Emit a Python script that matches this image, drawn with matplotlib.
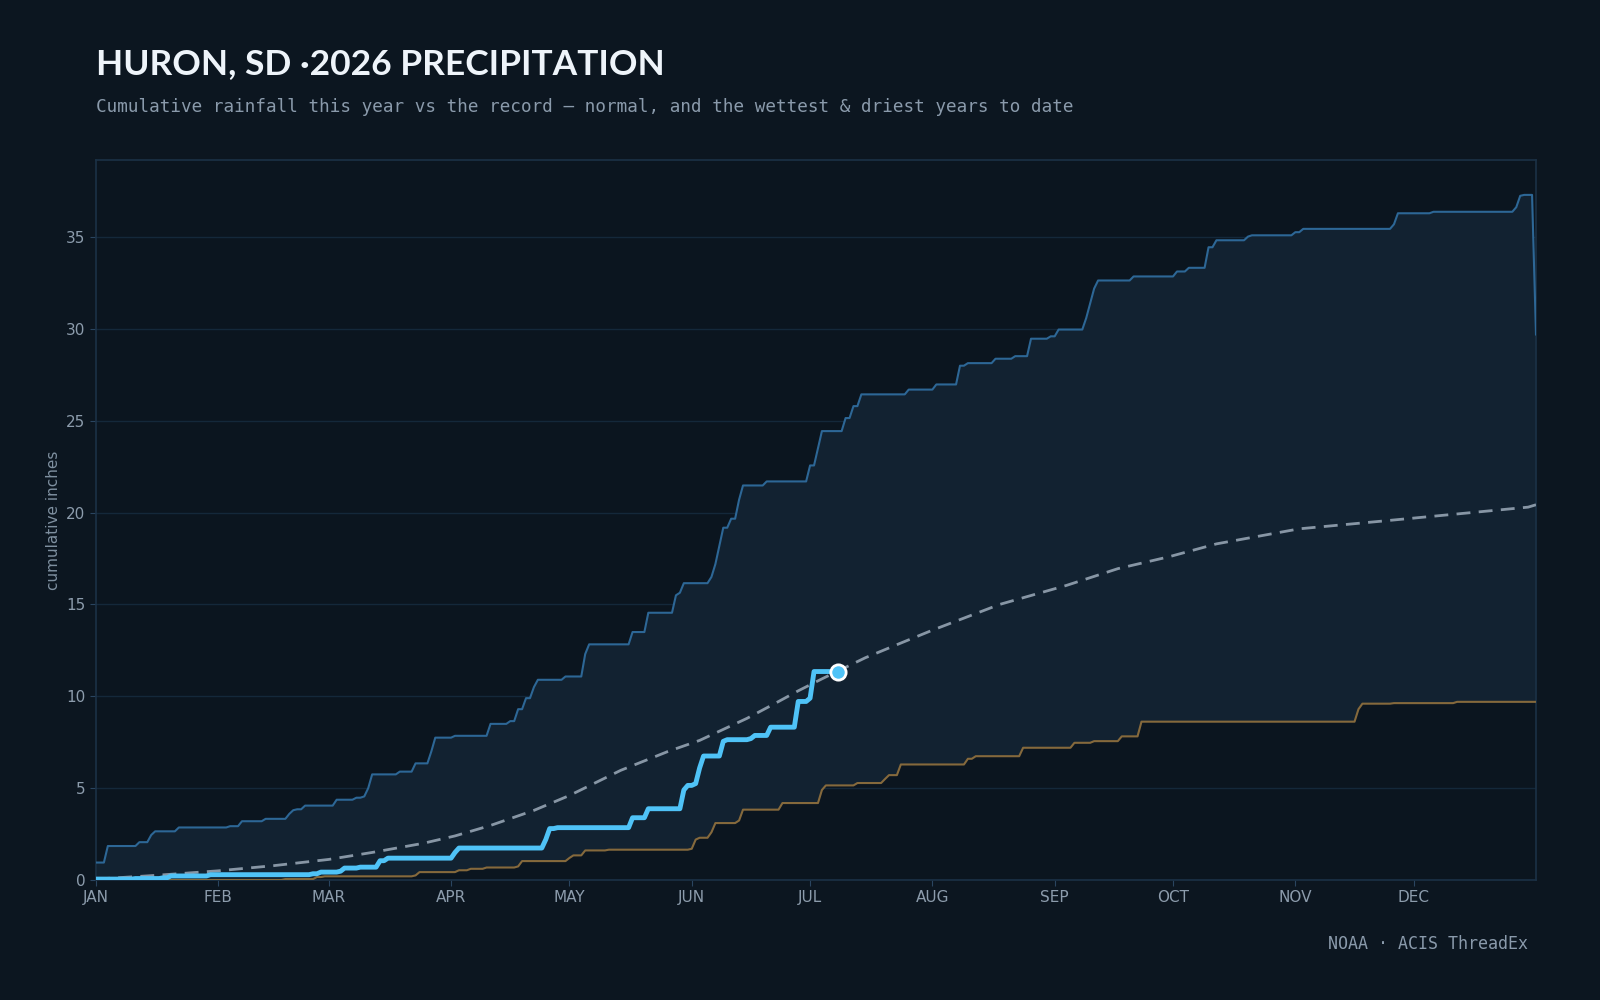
#!/usr/bin/env python3
# Huron, SD cumulative precipitation: this year vs normal and record wet/dry years

import matplotlib
matplotlib.use("Agg")
import matplotlib.pyplot as plt
import numpy as np

# day-of-year (0 = Jan 1) at which the cumulative total changes, and the new total
wet_days = [0, 3, 11, 14, 15, 21, 34, 37, 43, 49, 50, 51, 53, 61, 66, 68, 69, 70, 77,
            81, 85, 86, 91, 100, 105, 107, 109, 111, 112, 119, 124, 125, 136, 140, 147,
            148, 149, 156, 157, 158, 159, 161, 163, 164, 170, 181, 183, 184, 190, 192,
            194, 206, 213, 219, 221, 228, 233, 237, 242, 244, 251, 252, 253, 254,
            263, 274, 277, 282, 284, 292, 293, 304, 306, 329, 330, 339, 360, 361, 362, 365]
wet_vals = [0.95, 1.85, 2.06, 2.45, 2.65, 2.86, 2.93, 3.2, 3.33, 3.6, 3.8, 3.85, 4.05,
            4.37, 4.48, 4.55, 5.0, 5.75, 5.9, 6.35, 7.0, 7.75, 7.85, 8.5, 8.65, 9.3, 9.9,
            10.5, 10.9, 11.08, 12.3, 12.83, 13.5, 14.55, 15.5, 15.64, 16.16, 16.5, 17.2,
            18.2, 19.18, 19.67, 20.7, 21.48, 21.7, 22.57, 23.5, 24.44, 25.15, 25.8, 26.44,
            26.7, 26.98, 28.0, 28.14, 28.38, 28.52, 29.47, 29.6, 29.97, 30.6, 31.4,
            32.2, 32.64, 32.86, 33.13, 33.33, 34.45, 34.83, 35.03, 35.1, 35.27, 35.45,
            35.7, 36.3, 36.38, 36.63, 37.25, 37.3, 29.7]

dry_days = [0, 48, 56, 58, 81, 82, 92, 95, 99, 107, 108, 120, 121, 124, 130, 151, 152,
            153, 156, 157, 163, 164, 174, 184, 185, 193, 200, 201, 204, 221, 223, 235,
            248, 253, 260, 265, 320, 321, 329, 345]
dry_vals = [0.0, 0.05, 0.16, 0.2, 0.25, 0.43, 0.53, 0.61, 0.68, 0.74, 1.03, 1.2, 1.34,
            1.61, 1.65, 1.7, 2.2, 2.3, 2.6, 3.1, 3.24, 3.83, 4.19, 4.9, 5.15, 5.28, 5.5,
            5.71, 6.29, 6.6, 6.74, 7.2, 7.47, 7.56, 7.82, 8.62, 9.3, 9.6, 9.63, 9.7]

this_days = [0, 10, 17, 19, 29, 55, 57, 62, 63, 67, 72, 74, 91, 92, 114, 115, 117, 136,
             140, 149, 150, 152, 153, 154, 159, 160, 166, 167, 171, 178, 181, 182]
this_vals = [0.05, 0.08, 0.12, 0.22, 0.29, 0.34, 0.43, 0.48, 0.65, 0.7, 1.05, 1.19, 1.5,
             1.74, 2.2, 2.8, 2.85, 3.39, 3.88, 4.9, 5.15, 5.25, 6.1, 6.75, 7.55, 7.64,
             7.7, 7.87, 8.32, 9.72, 9.9, 11.35]
this_last_day = 188

normal_days = [0, 15, 31, 45, 59, 70, 83, 91, 100, 111, 120, 133, 145, 153, 158, 165,
               172, 178, 184, 195, 204, 212, 229, 246, 259, 272, 284, 305, 326, 347, 363, 365]
normal_vals = [0.05, 0.25, 0.5, 0.78, 1.12, 1.5, 2.0, 2.4, 2.97, 3.79, 4.6, 5.97, 7.0,
               7.6, 8.1, 8.8, 9.6, 10.3, 10.95, 12.1, 12.9, 13.6, 15.0, 16.04, 16.95, 17.6,
               18.3, 19.12, 19.54, 19.97, 20.3, 20.43]

month_starts = [0, 31, 59, 90, 120, 151, 181, 212, 243, 273, 304, 334]
month_labels = ["JAN", "FEB", "MAR", "APR", "MAY", "JUN", "JUL", "AUG", "SEP", "OCT",
                "NOV", "DEC"]


def daily(days, vals, last):
    # carry each running total forward until the next change
    out = np.zeros(last + 1)
    for d, v in zip(days, vals):
        out[d:] = v
    return out


wet = daily(wet_days, wet_vals, 365)
dry = daily(dry_days, dry_vals, 365)
this_year = daily(this_days, this_vals, this_last_day)
x_all = np.arange(366)
x_this = np.arange(this_last_day + 1)

BG = "#0c1620"
fig = plt.figure(figsize=(16, 10), dpi=100, facecolor=BG)
ax = fig.add_axes([0.06, 0.12, 0.90, 0.72], facecolor="#0b151f")

ax.fill_between(x_all, dry, wet, color="#122231", lw=0, zorder=1)
ax.plot(x_all, wet, color="#2d6796", lw=1.5, zorder=3)
ax.plot(x_all, dry, color="#85693c", lw=1.5, zorder=3)
ax.plot(normal_days, normal_vals, color="#8796a5", lw=2, dashes=(5, 3), zorder=4)
ax.plot(x_this, this_year, color="#4fc3f7", lw=3.5, solid_joinstyle="round",
        solid_capstyle="round", zorder=5)
ax.plot(x_this[-1], this_year[-1], "o", ms=11, mfc="#4fc3f7", mec="white", mew=2,
        zorder=6)

ax.set_xlim(0, 365)
ax.set_ylim(0, 39.2)
ax.set_xticks(month_starts)
ax.set_xticklabels(month_labels)
ax.set_yticks(range(0, 40, 5))
ax.grid(axis="y", color="#14283a", lw=1)
ax.set_axisbelow(True)
for sp in ax.spines.values():
    sp.set_color("#1b3146")
    sp.set_linewidth(1.2)
ax.tick_params(colors="#2a4560", labelcolor="#8c9cac", labelsize=11, length=4)
ax.set_ylabel("cumulative inches", color="#7f90a0", fontsize=11, labelpad=4)

fig.text(0.06, 0.926, "HURON, SD \u00b72026 PRECIPITATION", color="#eef4fa",
         fontsize=25.5, fontweight="bold", family="Lato", va="baseline")
fig.text(0.06, 0.888, "Cumulative rainfall this year vs the record \u2014 normal, and "
         "the wettest & driest years to date", color="#8a9aab", fontsize=12.7,
         family="DejaVu Sans Mono", va="baseline")
fig.text(0.955, 0.051, "NOAA \u00b7 ACIS ThreadEx", color="#8a9aab", fontsize=12,
         family="DejaVu Sans Mono", ha="right", va="baseline")

fig.savefig("out.png", dpi=100, facecolor=BG)
